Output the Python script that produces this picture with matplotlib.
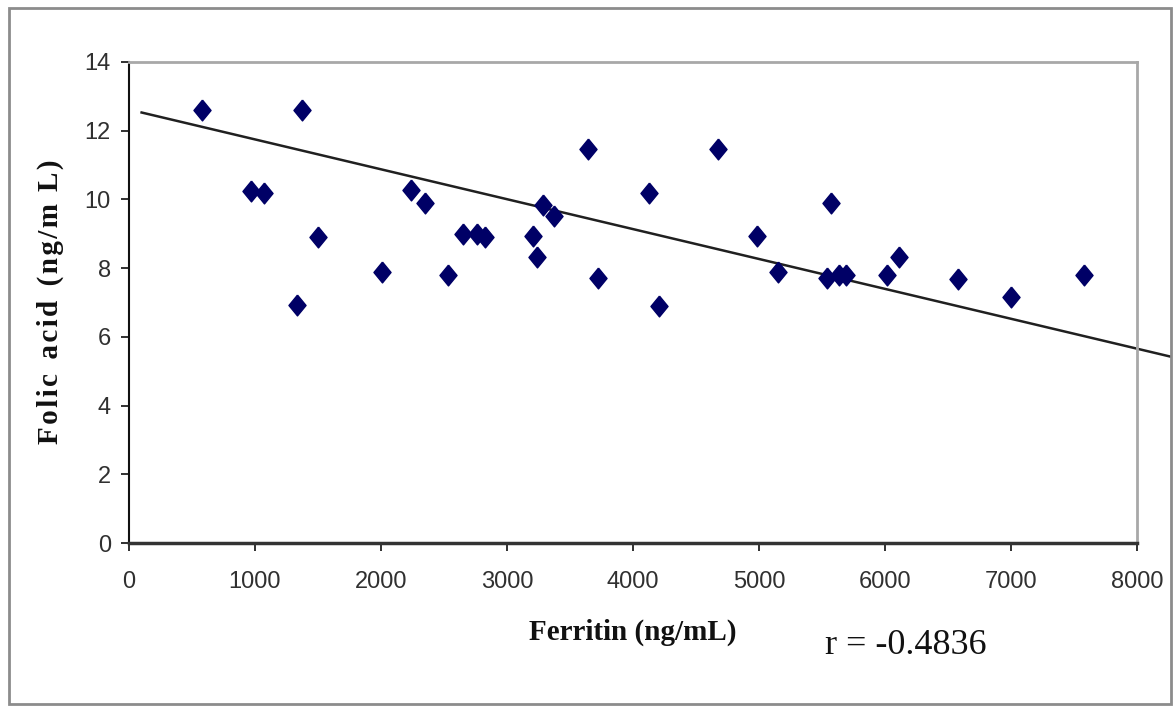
import numpy as np
import matplotlib
matplotlib.use('Agg')
import matplotlib.pyplot as plt
from matplotlib.patches import Rectangle

# data
ferritin = [582, 968, 1071, 1331, 1375, 1502, 2005, 2238, 2349, 2534,
            2653, 2765, 2825, 3204, 3236, 3283, 3375, 3646, 3725, 4127,
            4206, 4677, 4987, 5153, 5537, 5569, 5637, 5688, 6013, 6111,
            6582, 6998, 7579]
folic = [12.6, 10.25, 10.2, 6.93, 12.6, 8.92, 7.9, 10.27, 9.89, 7.8,
         8.99, 8.99, 8.92, 8.94, 8.31, 9.84, 9.52, 11.46, 7.72, 10.2,
         6.91, 11.46, 8.94, 7.9, 7.72, 9.89, 7.8, 7.8, 7.8, 8.33,
         7.67, 7.15, 7.8]
trend_x = [100, 8260]
trend_y = [12.53, 5.43]
r_text = "r = -0.4836"

W, H = 1176, 708
fig = plt.figure(figsize=(W / 100, H / 100), dpi=100)
ax = fig.add_axes([129 / W, 1 - 543 / H, (1137 - 129) / W, (543 - 62) / H])

# outer frame of the chart
fig.patches.append(Rectangle((9 / W, 1 - 704 / H), (1171 - 9) / W, (704 - 8) / H,
                             transform=fig.transFigure, fill=False,
                             edgecolor='#8c8c8c', linewidth=2))

diamond = [(0, 1), (0.82, 0), (0, -1), (-0.82, 0), (0, 1)]
ax.plot(ferritin, folic, linestyle='none', marker=diamond, markersize=15,
        color='#000066', zorder=3)
ax.plot(trend_x, trend_y, color='#202020', linewidth=1.8, clip_on=False, zorder=2)

ax.set_xlim(0, 8000)
ax.set_ylim(0, 14)
ax.set_xticks(np.arange(0, 8001, 1000))
ax.set_yticks(np.arange(0, 15, 2))

for lab in ax.get_xticklabels() + ax.get_yticklabels():
    lab.set_family('Liberation Sans')
    lab.set_fontsize(17)
    lab.set_color('#303030')
ax.tick_params(axis='x', direction='out', length=6, width=1.3, pad=14, color='#202020')
ax.tick_params(axis='y', direction='out', length=6, width=1.3, pad=7, color='#202020')

ax.spines['left'].set_color('#111111')
ax.spines['left'].set_linewidth(1.5)
ax.spines['bottom'].set_color('#333333')
ax.spines['bottom'].set_linewidth(2.5)
ax.spines['top'].set_color('#a8a8a8')
ax.spines['top'].set_linewidth(2)
ax.spines['right'].set_color('#a8a8a8')
ax.spines['right'].set_linewidth(2)

ylabel = '\u200a'.join('Folic') + '  ' + '\u200a'.join('acid') + '  ' + '\u200a'.join('(ng/m L)')
fig.text(633 / W, 1 - 632 / H, 'Ferritin (ng/mL)', family='Liberation Serif',
         weight='bold', fontsize=21, ha='center', va='center', color='#111111')
fig.text(50 / W, 1 - 302 / H, ylabel, family='Liberation Serif',
         weight='bold', fontsize=21, rotation=90, ha='center', va='center', color='#111111')
fig.text(906 / W, 1 - 645 / H, r_text, family='Liberation Serif',
         fontsize=26, ha='center', va='center', color='#111111')

fig.savefig('out.png', dpi=100)
